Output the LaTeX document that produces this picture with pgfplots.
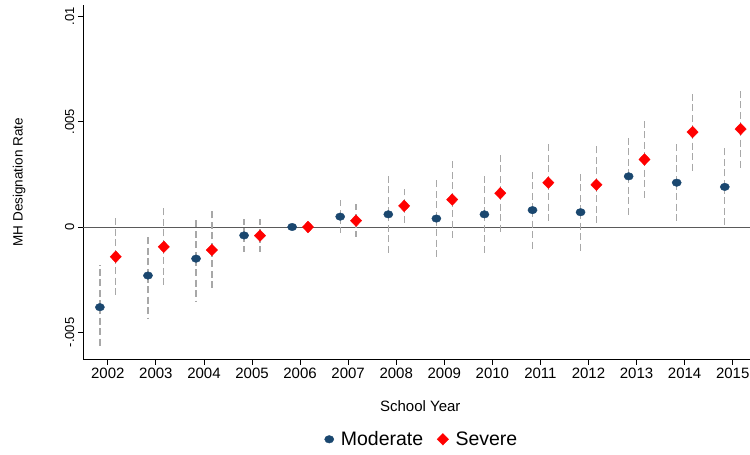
\documentclass[border=0pt]{standalone}
\usepackage{pgfplots}
\pgfplotsset{compat=1.18}
\usepackage{pgfplotstable}
\usepackage{fontspec}
\setmainfont{Liberation Sans}
\usetikzlibrary{calc}

\definecolor{statanavy}{HTML}{1A476F}
\definecolor{cigray}{HTML}{A8A8A8}
\definecolor{zerogray}{HTML}{5A5A5A}

% year, estimate, lower and upper bound of the interval
\pgfplotstableread{
year est lo hi
2002 -0.00380 -0.00575 -0.00180
2003 -0.00230 -0.00430 -0.00035
2004 -0.00150 -0.00350 0.00047
2005 -0.00040 -0.00117 0.00037
2006 0.00000 0.00000 0.00000
2007 0.00049 -0.00029 0.00128
2008 0.00060 -0.00136 0.00255
2009 0.00040 -0.00157 0.00236
2010 0.00060 -0.00136 0.00255
2011 0.00080 -0.00117 0.00275
2012 0.00070 -0.00125 0.00266
2013 0.00240 0.00044 0.00434
2014 0.00210 0.00013 0.00405
2015 0.00190 -0.00006 0.00386
}\moderate

\pgfplotstableread{
year est lo hi
2002 -0.00141 -0.00339 0.00057
2003 -0.00094 -0.00286 0.00104
2004 -0.00109 -0.00307 0.00085
2005 -0.00041 -0.00117 0.00038
2006 0.00000 0.00000 0.00000
2007 0.00030 -0.00047 0.00110
2008 0.00100 0.00020 0.00179
2009 0.00130 -0.00066 0.00326
2010 0.00160 -0.00038 0.00358
2011 0.00210 0.00013 0.00405
2012 0.00200 0.00005 0.00394
2013 0.00320 0.00123 0.00516
2014 0.00450 0.00255 0.00646
2015 0.00464 0.00266 0.00655
}\severe

\begin{document}
\begin{tikzpicture}
\begin{axis}[
    name=ax,
    scale only axis,
    width=666.7pt, height=354.3pt,
    xmin=2001.49, xmax=2015.36,
    ymin=-0.00627, ymax=0.01052,
    axis lines*=left,
    axis line style={black, line width=0.8pt},
    tick align=outside,
    major tick length=5.5pt,
    tick style={black, line width=0.8pt},
    xtick={2002,2003,...,2015},
    xticklabels={2002,2003,2004,2005,2006,2007,2008,2009,2010,2011,2012,2013,2014,2015},
    xticklabel style={font=\fontsize{15}{18}\selectfont},
    ytick={-0.005,0,0.005,0.01},
    yticklabels={-.005,0,.005,.01},
    scaled y ticks=false,
    yticklabel style={font=\fontsize{13}{16}\selectfont, rotate=90, anchor=south},
    xlabel={School Year},
    xlabel style={at={(axis description cs:0.5055,-0.1327)}, anchor=center, font=\fontsize{15}{18}\selectfont},
    ylabel={MH Designation Rate},
    ylabel style={at={(axis description cs:-0.0964,0.5)}, anchor=center, font=\fontsize{13.5}{16}\selectfont},
    legend columns=2,
    legend style={at={(axis description cs:0.508,-0.2258)}, anchor=center, draw=none,
        font=\fontsize{19.5}{22}\selectfont,
        /tikz/every odd column/.append style={column sep=5pt},
        /tikz/every even column/.append style={column sep=12pt}},
    clip=false,
]
% reference line at zero
\addplot[forget plot, zerogray, line width=0.9pt] coordinates {(2001.49,0) (2015.36,0)};

% confidence intervals
\addplot[forget plot, only marks, mark=none, cigray,
    error bars/.cd, y dir=both, y explicit, error mark=none,
    error bar style={cigray, line width=1.3pt, dash pattern=on 7pt off 3.5pt}]
    table[x expr=\thisrow{year}-0.165, y=est,
          y error plus expr=\thisrow{hi}-\thisrow{est},
          y error minus expr=\thisrow{est}-\thisrow{lo}] {\moderate};
\addplot[forget plot, only marks, mark=none, cigray,
    error bars/.cd, y dir=both, y explicit, error mark=none,
    error bar style={cigray, line width=1.3pt, dash pattern=on 7pt off 3.5pt}]
    table[x expr=\thisrow{year}+0.165, y=est,
          y error plus expr=\thisrow{hi}-\thisrow{est},
          y error minus expr=\thisrow{est}-\thisrow{lo}] {\severe};

% estimates
\addplot[only marks, mark=*, mark size=4.6pt,
    mark options={yscale=0.82, draw=statanavy, fill=statanavy}]
    table[x expr=\thisrow{year}-0.165, y=est] {\moderate};
\addlegendentry{Moderate}
\addplot[only marks, mark=diamond*, mark size=5.8pt,
    mark options={xscale=1.3, draw=red, fill=red}]
    table[x expr=\thisrow{year}+0.165, y=est] {\severe};
\addlegendentry{Severe}
\end{axis}
\pgfresetboundingbox
\path[use as bounding box] ($(ax.south west)+(-83.3pt,-95.7pt)$) rectangle ($(ax.south west)+(666.7pt,359.3pt)$);
\end{tikzpicture}
\end{document}
